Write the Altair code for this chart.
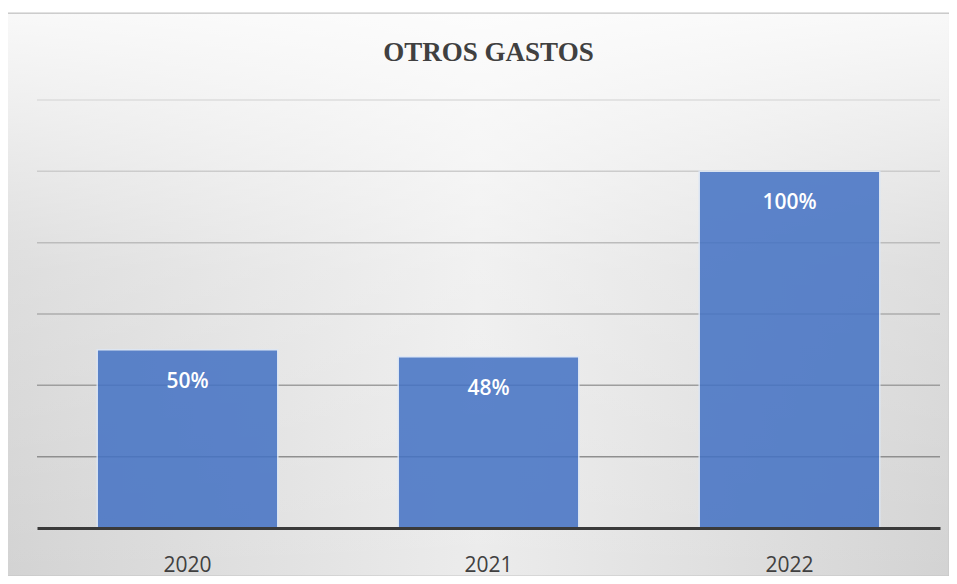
import altair as alt
import pandas as pd

# Data
years = ["2020", "2021", "2022"]
values = [50, 48, 100]
labels = ["50%", "48%", "100%"]
grid_values = [20, 40, 60, 80, 100, 120]
title_text = "OTROS GASTOS"

df = pd.DataFrame({"year": years, "value": values, "label": labels})
grid_df = pd.DataFrame({"g": grid_values})

W, H = 903, 428
PAD = {"left": 29, "top": 92, "right": 9, "bottom": 48}

yscale = alt.Scale(domain=[0, 120], nice=False, zero=True)
xscale = alt.Scale(paddingInner=0.4, paddingOuter=0.2)

# Background panels (style only)
bg_h = alt.LinearGradient(
    gradient="linear",
    stops=[
        alt.GradientStop(color="#d3d3d3", offset=0),
        alt.GradientStop(color="#ececec", offset=0.5),
        alt.GradientStop(color="#d3d3d3", offset=1),
    ],
    x1=0, x2=1, y1=0, y2=0,
)
bg_v = alt.LinearGradient(
    gradient="linear",
    stops=[
        alt.GradientStop(color="rgba(255,255,255,0.85)", offset=0),
        alt.GradientStop(color="rgba(255,255,255,0.25)", offset=0.45),
        alt.GradientStop(color="rgba(255,255,255,0.0)", offset=1),
    ],
    x1=0, x2=0, y1=0, y2=1,
)
one = alt.Data(values=[{"t": title_text}])
bg1 = alt.Chart(one).mark_rect(fill=bg_h, stroke="#c4c4c4", strokeWidth=1).encode(
    x=alt.value(-30), x2=alt.value(912), y=alt.value(-87), y2=alt.value(476)
)
bg2 = alt.Chart(one).mark_rect(fill=bg_v).encode(
    x=alt.value(-30), x2=alt.value(912), y=alt.value(-86), y2=alt.value(476)
)

title = alt.Chart(one).mark_text(
    font="Liberation Serif", fontSize=27, fontWeight="bold", color="#404040",
    align="center", baseline="alphabetic",
).encode(x=alt.value(W / 2), y=alt.value(-39), text="t:N")

grid = alt.Chart(grid_df).mark_rule(strokeWidth=1.5).encode(
    y=alt.Y("g:Q", scale=yscale, axis=None),
    color=alt.Color(
        "g:Q",
        scale=alt.Scale(domain=[20, 120], range=["#8f8f8f", "#dcdcdc"]),
        legend=None,
    ),
)

bars = alt.Chart(df).mark_bar(
    color="#4472c4", opacity=0.86, stroke="#dde7f6", strokeWidth=1.5, strokeOpacity=1
).encode(
    x=alt.X(
        "year:N",
        scale=xscale,
        sort=years,
        axis=alt.Axis(
            title=None,
            labelAngle=0,
            labelFont="Open Sans",
            labelFontSize=21,
            labelColor="#404040",
            labelBaseline="middle",
            labelPadding=37,
            ticks=False,
            tickSize=0,
            domainColor="#3a3a3a",
            domainWidth=3,
            zindex=1,
        ),
    ),
    y=alt.Y("value:Q", scale=yscale, axis=None),
)

text = alt.Chart(df).mark_text(
    color="white", font="Open Sans", fontSize=21, fontWeight=600, baseline="middle", dy=32
).encode(
    x=alt.X("year:N", scale=xscale, sort=years),
    y=alt.Y("value:Q", scale=yscale),
    text="label:N",
)

chart = alt.layer(bg1, bg2, title, grid, bars, text).properties(
    width=W,
    height=H,
    autosize=alt.AutoSizeParams(type="none"),
    padding=PAD,
    background="white",
).configure_view(stroke=None)

chart.save("out.html", embed_options={"renderer": "svg", "actions": False})
